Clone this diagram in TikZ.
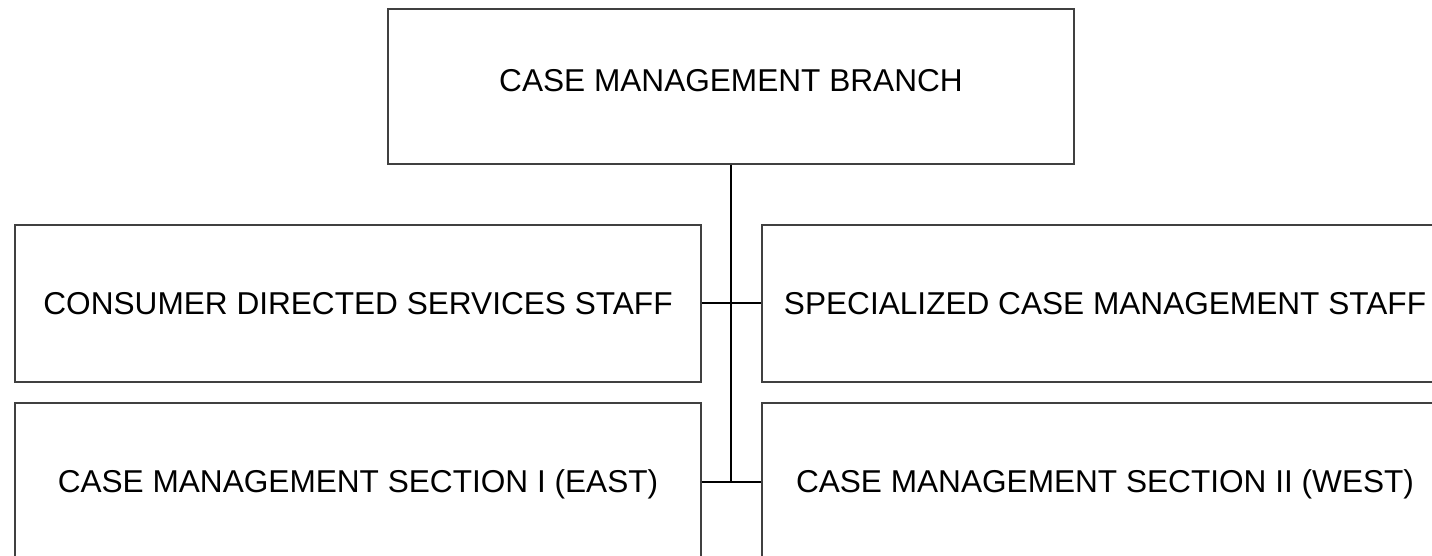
\documentclass[tikz,border=0pt]{standalone}
\usepackage{fontspec}
\setmainfont{Liberation Sans}
\begin{document}
\begin{tikzpicture}[x=1pt,y=1pt,
  orgbox/.style={draw=black!75,line width=1.4pt,minimum width=686pt,minimum height=157pt,inner sep=0pt,text height=22.6pt,text depth=0pt,font=\fontsize{31.6}{38}\selectfont},
  link/.style={draw=black,line width=1.3pt}]
\useasboundingbox (0,0) rectangle (1432,556);
\clip (0,0) rectangle (1432,556);
\fill[white] (0,0) rectangle (1432,556);
\node[orgbox,minimum height=155pt,text depth=12pt] (top) at (731,469.5) {CASE MANAGEMENT BRANCH};
\node[orgbox] (ml) at (358,252.5) {CONSUMER DIRECTED SERVICES STAFF};
\node[orgbox] (mr) at (1105,252.5) {SPECIALIZED CASE MANAGEMENT STAFF};
\node[orgbox] (bl) at (358,74.5) {CASE MANAGEMENT SECTION I (EAST)};
\node[orgbox] (br) at (1105,74.5) {CASE MANAGEMENT SECTION II (WEST)};
\coordinate (vend) at (731,74);
\draw[link] (top.south) -- (vend);
\draw[link] (ml.east |- 0,253) -- (mr.west |- 0,253);
\draw[link] (bl.east |- vend) -- (br.west |- vend);
\end{tikzpicture}
\end{document}
